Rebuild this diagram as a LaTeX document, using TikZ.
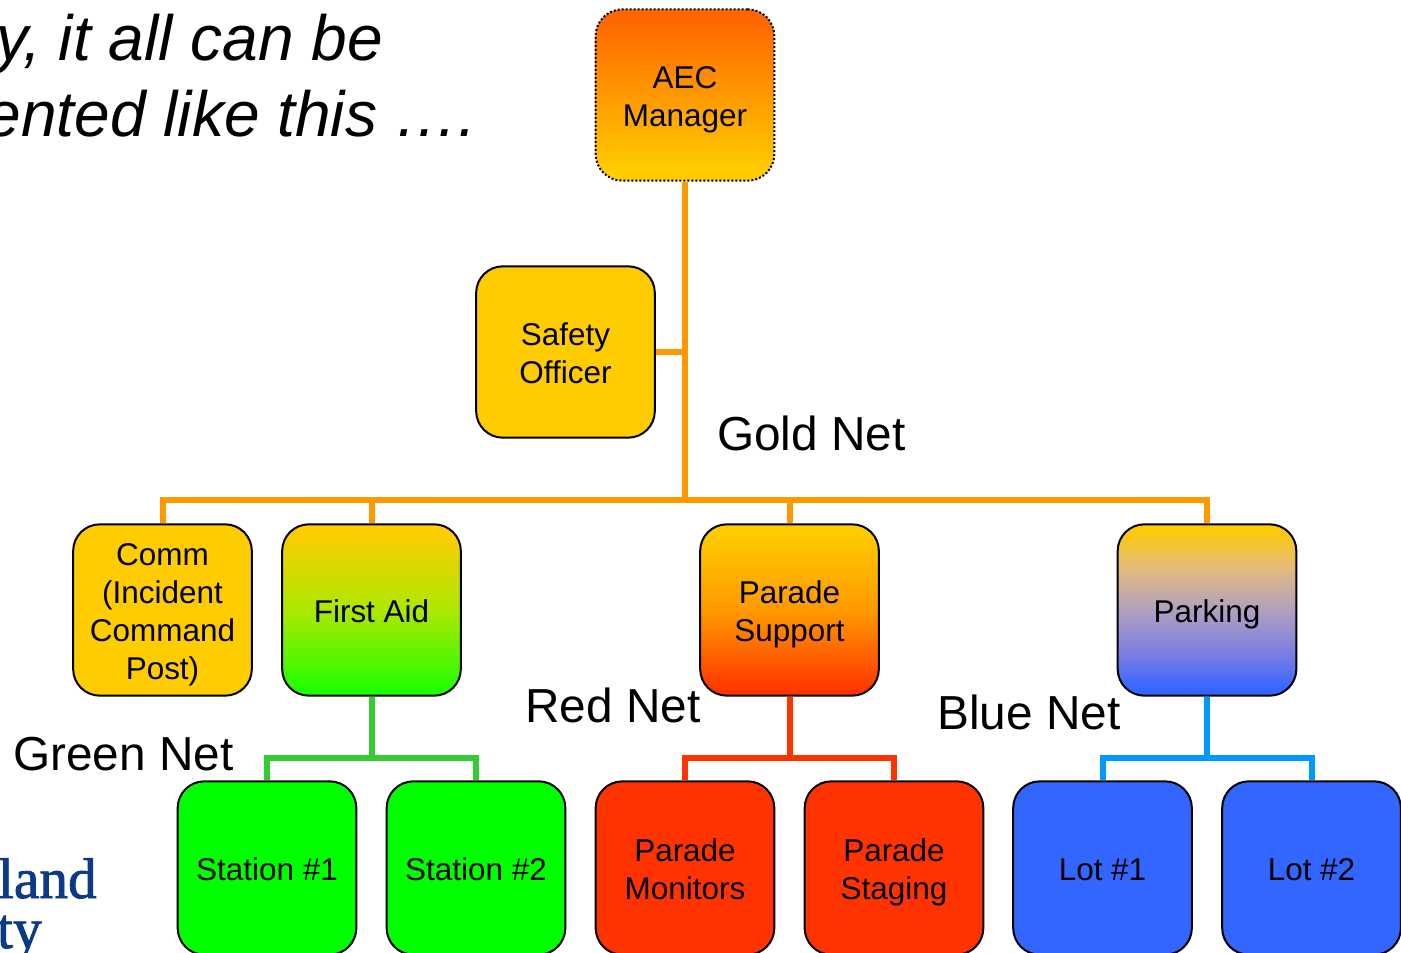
\documentclass[tikz,border=0pt]{standalone}
\usepackage{fontspec}
\setmainfont{Liberation Sans}
\newfontfamily\serifbrand[FakeBold=1.5]{Liberation Serif}
\usetikzlibrary{backgrounds}
\newcommand{\lastln}[1]{\smash{#1}}
\newcommand{\firstln}{\rule{0pt}{20pt}}
\definecolor{cYellow}{HTML}{FFCC00}
\definecolor{cGreen}{HTML}{00FF00}
\definecolor{cRed}{HTML}{FF3300}
\definecolor{cBlue}{HTML}{3366FF}
\definecolor{cGold}{HTML}{FF9900}
\definecolor{cGreenLine}{HTML}{33CC33}
\definecolor{cBlueLine}{HTML}{0099FF}
\definecolor{cOrange}{HTML}{FF6600}
\definecolor{cNavy}{HTML}{0B3A86}
\definecolor{cAidMid}{HTML}{ACE800}
\definecolor{cAidBot}{HTML}{1CFF00}
\definecolor{cParkA}{HTML}{8080E0}
\definecolor{cParkB}{HTML}{B0A0C0}
\definecolor{cParkC}{HTML}{E4BA80}
\pgfdeclareverticalshading{shAec}{100bp}{color(0bp)=(cYellow); color(28bp)=(cYellow); color(50bp)=(cGold); color(72bp)=(cOrange); color(100bp)=(cOrange)}
\pgfdeclareverticalshading{shAid}{100bp}{color(0bp)=(cAidBot); color(26bp)=(cAidBot); color(50bp)=(cAidMid); color(73bp)=(cYellow); color(100bp)=(cYellow)}
\pgfdeclareverticalshading{shSupport}{100bp}{color(0bp)=(cRed); color(26bp)=(cRed); color(50bp)=(cGold); color(73bp)=(cYellow); color(100bp)=(cYellow)}
\pgfdeclareverticalshading{shParking}{100bp}{color(0bp)=(cBlue); color(27bp)=(cBlue); color(38bp)=(cParkA); color(50bp)=(cParkB); color(62bp)=(cParkC); color(74bp)=(cYellow); color(100bp)=(cYellow)}
\tikzset{
  x=0.75pt,y=-0.75pt,
  box/.style={draw=black,line width=1.5pt,rounded corners=20pt,minimum width=134pt,minimum height=128.5pt,
    inner sep=0pt,align=center,font=\fontsize{23.6}{28.5}\selectfont,text=black,
    execute at begin node={\rule[-1.2pt]{0pt}{21.2pt}},
    execute at end node={\rule[-1.2pt]{0pt}{21.2pt}}},
  lowrow/.style={minimum height=130pt},
  yellowbox/.style={box,fill=cYellow},
  greenbox/.style={box,lowrow,fill=cGreen},
  redbox/.style={box,lowrow,fill=cRed},
  bluebox/.style={box,lowrow,fill=cBlue},
  gradbox/.style={box,shade,shading=#1},
  netlabel/.style={font=\fontsize{35.8}{42}\selectfont,anchor=base west,inner sep=0pt},
  titleline/.style={font=\fontsize{48}{52}\selectfont\itshape,anchor=base east,inner sep=0pt},
  brand/.style={font=\fontsize{43}{50}\serifbrand\selectfont,text=cNavy,anchor=base east,inner sep=0pt},
  goldline/.style={draw=cGold,line width=4.5pt},
  greenline/.style={draw=cGreenLine,line width=4.5pt},
  redline/.style={draw=cRed,line width=4.5pt},
  blueline/.style={draw=cBlueLine,line width=4.5pt},
}
\begin{document}
\begin{tikzpicture}
\useasboundingbox (0,0) rectangle (1401,952);
\clip (0,0) rectangle (1401,952);

\node[titleline] (t1) at (383,61) {y, it all can be};
\node[titleline] (t2) at (477,137) {ented like this ….};
\node[brand] (b1) at (97,898) {land};
\node[brand] (b2) at (42,948) {ty};

\node[gradbox=shAec,dash pattern=on 1.5pt off 1.5pt] (aec) at (685,95) {\firstln AEC\\\lastln{Manager}};
\node[yellowbox] (safety) at (565.5,352) {\firstln Safety\\\lastln{Officer}};
\node[yellowbox] (comm) at (162.5,610) {\firstln Comm\\(Incident\\Command\\\lastln{Post)}};
\node[gradbox=shAid] (aid) at (371.5,610) {\lastln{First Aid}};
\node[gradbox=shSupport] (support) at (789.5,610) {\firstln Parade\\\lastln{Support}};
\node[gradbox=shParking] (parking) at (1207,610) {\lastln{Parking}};
\node[greenbox] (s1) at (267,868) {\lastln{Station \#1}};
\node[greenbox] (s2) at (476,868) {\lastln{Station \#2}};
\node[redbox] (pm) at (685,868) {\firstln Parade\\\lastln{Monitors}};
\node[redbox] (ps) at (894,868) {\firstln Parade\\\lastln{Staging}};
\node[bluebox] (l1) at (1102.5,868) {\lastln{Lot \#1}};
\node[bluebox] (l2) at (1311.5,868) {\lastln{Lot \#2}};

\node[netlabel] (gold) at (717,450) {Gold Net};
\node[netlabel] (red) at (525,722) {Red Net};
\node[netlabel] (blue) at (937,729) {Blue Net};
\node[netlabel] (green) at (13,770) {Green Net};

\coordinate (busgold) at (685,500);
\coordinate (busgreen) at (371.5,758);
\coordinate (busred) at (789.5,758);
\coordinate (busblue) at (1207,758);

\begin{scope}[on background layer]
\draw[goldline] (aec.south) -- (busgold);
\draw[goldline] (safety.east) -- (safety.east -| busgold);
\draw[goldline,line join=miter] (comm.north) |- (busgold);
\draw[goldline,line join=miter] (parking.north) |- (busgold);
\draw[goldline] (aid.north) -- (aid.north |- busgold);
\draw[goldline] (support.north) -- (support.north |- busgold);
\draw[greenline] (aid.south) -- (busgreen);
\draw[greenline,line join=miter] (s1.north) |- (busgreen);
\draw[greenline,line join=miter] (s2.north) |- (busgreen);
\draw[redline] (support.south) -- (busred);
\draw[redline,line join=miter] (pm.north) |- (busred);
\draw[redline,line join=miter] (ps.north) |- (busred);
\draw[blueline] (parking.south) -- (busblue);
\draw[blueline,line join=miter] (l1.north) |- (busblue);
\draw[blueline,line join=miter] (l2.north) |- (busblue);
\end{scope}
\end{tikzpicture}
\end{document}
